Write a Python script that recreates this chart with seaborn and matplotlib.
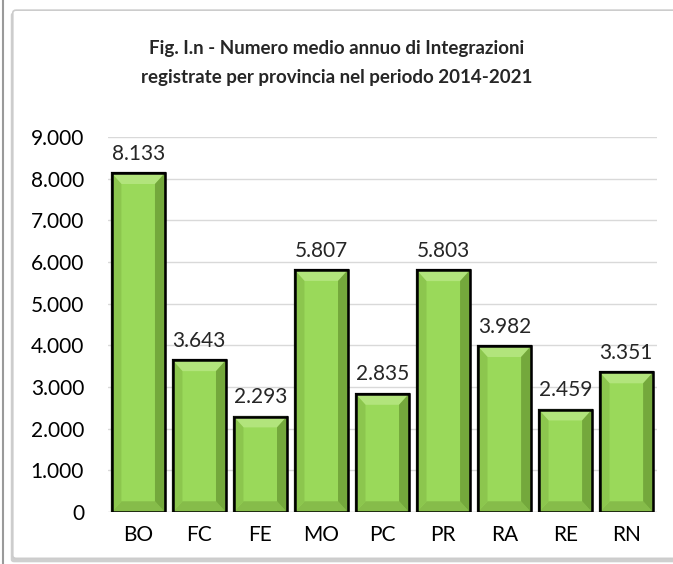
import numpy as np
import pandas as pd
import seaborn as sns
import matplotlib.pyplot as plt
from matplotlib.patches import Polygon, FancyBboxPatch
from matplotlib.ticker import FuncFormatter

province = ["BO", "FC", "FE", "MO", "PC", "PR", "RA", "RE", "RN"]
media_annua = [8133, 3643, 2293, 5807, 2835, 5803, 3982, 2459, 3351]
titolo = "Fig. I.n - Numero medio annuo di Integrazioni\nregistrate per provincia nel periodo 2014-2021"

sns.set_style("white")
plt.rcParams["font.family"] = ["Lato", "DejaVu Sans"]

df = pd.DataFrame({"provincia": province, "valore": media_annua})

fig = plt.figure(figsize=(6.73, 5.64), dpi=100)

# chart frame with shadow
shadow = FancyBboxPatch((0.016, 0.003), 1.0, 0.975, boxstyle="round,pad=0,rounding_size=0.005",
                        transform=fig.transFigure, facecolor="#cfcfcf", edgecolor="none", zorder=-3)
frame = FancyBboxPatch((0.019, 0.01), 1.0, 0.972, boxstyle="round,pad=0,rounding_size=0.005",
                       transform=fig.transFigure, facecolor="white", edgecolor="#cccccc",
                       linewidth=1.2, zorder=-2)
fig.patches.extend([shadow, frame])
fig.lines.append(plt.Line2D([0.005, 0.005], [0.0, 1.0], transform=fig.transFigure,
                            color="#9a9a9a", lw=1.5, zorder=-1))

ax = fig.add_axes([0.160, 0.092, 0.816, 0.665])
ax.set_facecolor("none")
sns.barplot(data=df, x="provincia", y="valore", color="#9ad95a", width=0.87,
            edgecolor="black", linewidth=1.6, saturation=1, ax=ax, zorder=3)

ax.set_ylim(0, 9000)
ax.set_yticks(np.arange(0, 9001, 1000))
ax.yaxis.set_major_formatter(FuncFormatter(lambda v, p: f"{int(v):,}".replace(",", ".")))
ax.grid(axis="y", color="#d9d9d9", linewidth=1.0, zorder=0)
ax.set_axisbelow(True)
for s in ax.spines.values():
    s.set_visible(False)
ax.axhline(0, color="#d9d9d9", lw=1.0, zorder=2)
ax.set_xlabel("")
ax.set_ylabel("")
ax.tick_params(axis="both", length=0, labelsize=15, colors="black")
ax.tick_params(axis="y", pad=17)
ax.tick_params(axis="x", pad=9)

# bevel effect on each bar
bx, by = 0.16, 260
for bar in list(ax.patches):
    x0, y0 = bar.get_x(), bar.get_y()
    w, h = bar.get_width(), bar.get_height()
    x1, y1 = x0 + w, y0 + h
    top = [(x0, y1), (x1, y1), (x1 - bx, y1 - by), (x0 + bx, y1 - by)]
    bot = [(x0, y0), (x1, y0), (x1 - bx, y0 + by), (x0 + bx, y0 + by)]
    left = [(x0, y0), (x0, y1), (x0 + bx, y1 - by), (x0 + bx, y0 + by)]
    right = [(x1, y0), (x1, y1), (x1 - bx, y1 - by), (x1 - bx, y0 + by)]
    for pts, col in [(top, "#b2e47c"), (bot, "#86bc4a"), (left, "#8cc64e"), (right, "#74a83c")]:
        ax.add_patch(Polygon(pts, closed=True, facecolor=col, edgecolor="none", zorder=4))
    ax.add_patch(Polygon([(x0, y0), (x1, y0), (x1, y1), (x0, y1)], closed=True,
                         facecolor="none", edgecolor="black", linewidth=1.8, zorder=5))

for i, v in enumerate(media_annua):
    ax.text(i, v + 230, f"{v:,}".replace(",", "."), ha="center", va="bottom", fontsize=15, zorder=6)

fig.text(0.50, 0.888, titolo, ha="center", va="center", fontsize=13.5, fontweight="bold",
         linespacing=1.85)

fig.savefig("out.png", dpi=100)
